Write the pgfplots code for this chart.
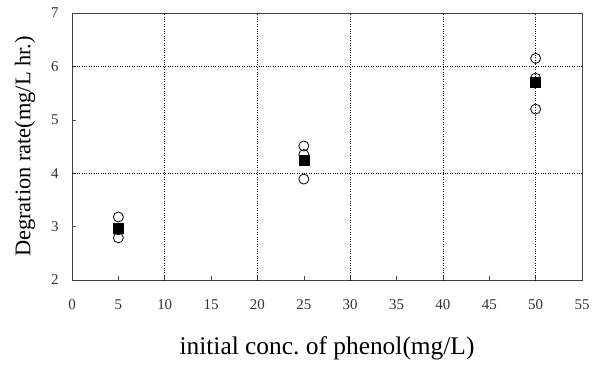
\documentclass[border=0pt]{standalone}
\usepackage{pgfplots}
\pgfplotsset{compat=1.18}
\usepackage{fontspec}
\setmainfont{Liberation Serif}
\frenchspacing
\begin{document}
\begin{tikzpicture}
\begin{axis}[
  scale only axis,
  width=510bp, height=267bp,
  xmin=0, xmax=55, ymin=2, ymax=7,
  xtick={0,5,...,55}, ytick={2,3,...,7},
  grid=none,
  extra x ticks={10,20,30,40,50},
  extra x tick labels={},
  extra x tick style={grid=major, major grid style={black, dotted, line width=0.6pt}, tick style={draw=none}},
  extra y ticks={4,6},
  extra y tick labels={},
  extra y tick style={grid=major, major grid style={black, dotted, line width=0.6pt}, tick style={draw=none}},
  tick align=inside,
  xtick pos=bottom, ytick pos=left,
  major tick length=4bp,
  tick style={black!70, line width=0.6pt},
  axis line style={black!75, line width=0.8pt},
  /pgf/number format/assume math mode=true,
  ticklabel style={font=\fontsize{15}{17}\selectfont, text=black!80},
  xticklabel style={yshift=-16bp},
  yticklabel style={xshift=-10bp},
  xlabel={initial conc. of phenol(mg/L)},
  ylabel={Degration rate(mg/L hr.)},
  xlabel style={font=\fontsize{25.5}{30}\selectfont, yshift=-20bp},
  ylabel style={font=\fontsize{22.5}{26}\selectfont, yshift=9bp},
  clip=false,
]
\addplot[only marks, mark=o, mark size=5bp, black, line width=0.8pt]
  coordinates {(5,3.18) (5,2.94) (5,2.79) (25,4.51) (25,4.35) (25,3.89) (50,6.15) (50,5.78) (50,5.20)};
\addplot[only marks, mark=square*, mark size=5bp, black]
  coordinates {(5,2.97) (25,4.25) (50,5.71)};
\end{axis}
\path[use as bounding box] (current axis.south west) ++(-72bp,-84bp) coordinate (bl)
  (current axis.north east) ++(19bp,13bp) coordinate (tr);
\path[use as bounding box] (bl) rectangle (tr);
\end{tikzpicture}
\end{document}
